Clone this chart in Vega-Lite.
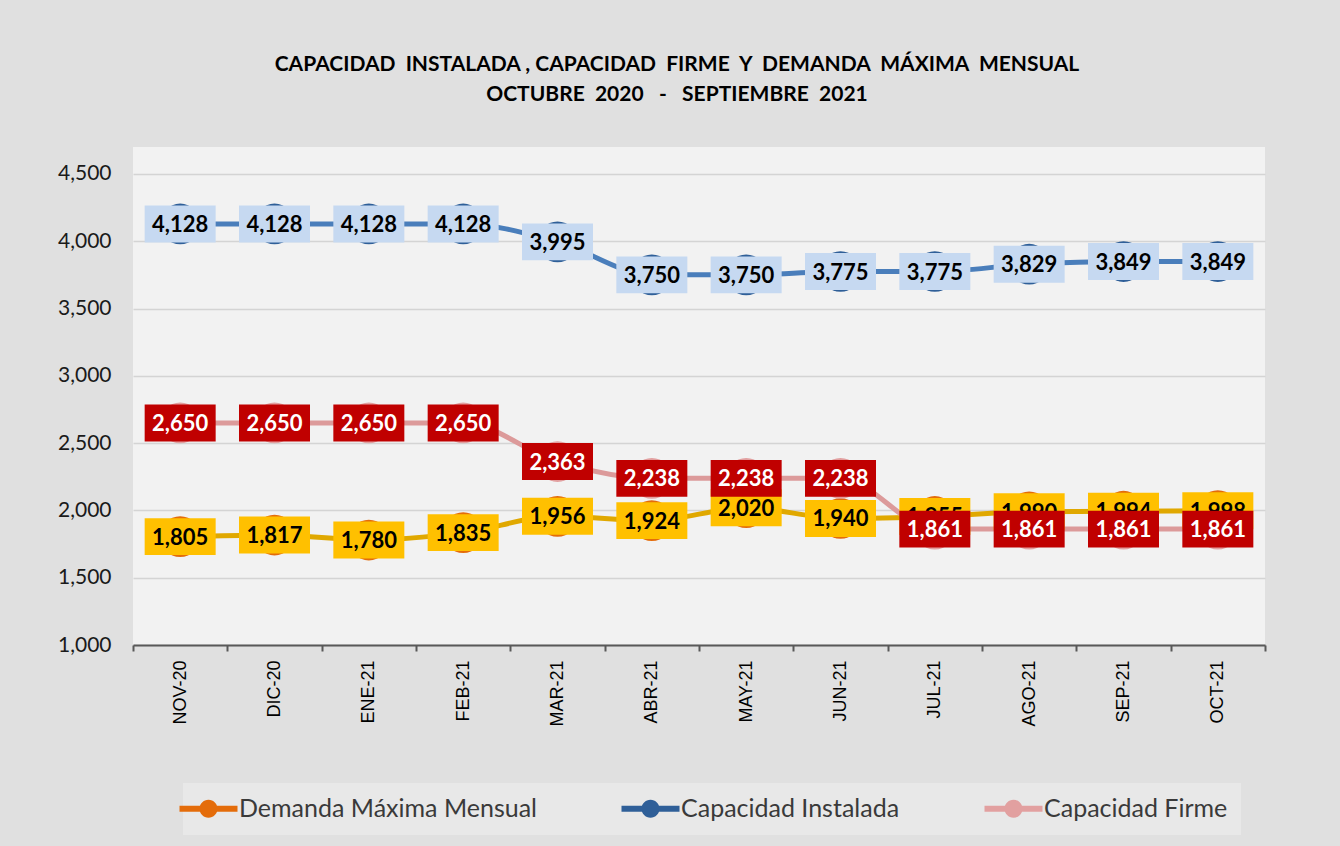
{
  "$schema": "https://vega.github.io/schema/vega-lite/v6.json",
  "autosize": "none",
  "width": 1132,
  "height": 498,
  "padding": {"left": 133, "top": 147, "right": 75, "bottom": 201},
  "background": "#e0e0e0",
  "config": {
    "view": {"fill": "#f2f2f2", "stroke": null},
    "font": "Lato"
  },
  "title": {
    "text": ["CAPACIDAD\u00a0 INSTALADA , CAPACIDAD\u00a0 FIRME\u00a0 Y\u00a0 DEMANDA\u00a0 MÁXIMA\u00a0 MENSUAL", "OCTUBRE\u00a0 2020\u00a0\u00a0 -\u00a0\u00a0 SEPTIEMBRE\u00a0 2021"],
    "fontSize": 21,
    "fontWeight": "bold",
    "font": "Lato",
    "color": "#000000",
    "anchor": "middle",
    "frame": "group",
    "dx": -22,
    "offset": 42,
    "lineHeight": 30
  },
  "data": {
    "values": [
      {"mes": "NOV-20", "serie": "Demanda Máxima Mensual", "valor": 1805},
      {"mes": "DIC-20", "serie": "Demanda Máxima Mensual", "valor": 1817},
      {"mes": "ENE-21", "serie": "Demanda Máxima Mensual", "valor": 1780},
      {"mes": "FEB-21", "serie": "Demanda Máxima Mensual", "valor": 1835},
      {"mes": "MAR-21", "serie": "Demanda Máxima Mensual", "valor": 1956},
      {"mes": "ABR-21", "serie": "Demanda Máxima Mensual", "valor": 1924},
      {"mes": "MAY-21", "serie": "Demanda Máxima Mensual", "valor": 2020},
      {"mes": "JUN-21", "serie": "Demanda Máxima Mensual", "valor": 1940},
      {"mes": "JUL-21", "serie": "Demanda Máxima Mensual", "valor": 1955},
      {"mes": "AGO-21", "serie": "Demanda Máxima Mensual", "valor": 1990},
      {"mes": "SEP-21", "serie": "Demanda Máxima Mensual", "valor": 1994},
      {"mes": "OCT-21", "serie": "Demanda Máxima Mensual", "valor": 1998},
      {"mes": "NOV-20", "serie": "Capacidad Instalada", "valor": 4128},
      {"mes": "DIC-20", "serie": "Capacidad Instalada", "valor": 4128},
      {"mes": "ENE-21", "serie": "Capacidad Instalada", "valor": 4128},
      {"mes": "FEB-21", "serie": "Capacidad Instalada", "valor": 4128},
      {"mes": "MAR-21", "serie": "Capacidad Instalada", "valor": 3995},
      {"mes": "ABR-21", "serie": "Capacidad Instalada", "valor": 3750},
      {"mes": "MAY-21", "serie": "Capacidad Instalada", "valor": 3750},
      {"mes": "JUN-21", "serie": "Capacidad Instalada", "valor": 3775},
      {"mes": "JUL-21", "serie": "Capacidad Instalada", "valor": 3775},
      {"mes": "AGO-21", "serie": "Capacidad Instalada", "valor": 3829},
      {"mes": "SEP-21", "serie": "Capacidad Instalada", "valor": 3849},
      {"mes": "OCT-21", "serie": "Capacidad Instalada", "valor": 3849},
      {"mes": "NOV-20", "serie": "Capacidad Firme", "valor": 2650},
      {"mes": "DIC-20", "serie": "Capacidad Firme", "valor": 2650},
      {"mes": "ENE-21", "serie": "Capacidad Firme", "valor": 2650},
      {"mes": "FEB-21", "serie": "Capacidad Firme", "valor": 2650},
      {"mes": "MAR-21", "serie": "Capacidad Firme", "valor": 2363},
      {"mes": "ABR-21", "serie": "Capacidad Firme", "valor": 2238},
      {"mes": "MAY-21", "serie": "Capacidad Firme", "valor": 2238},
      {"mes": "JUN-21", "serie": "Capacidad Firme", "valor": 2238},
      {"mes": "JUL-21", "serie": "Capacidad Firme", "valor": 1861},
      {"mes": "AGO-21", "serie": "Capacidad Firme", "valor": 1861},
      {"mes": "SEP-21", "serie": "Capacidad Firme", "valor": 1861},
      {"mes": "OCT-21", "serie": "Capacidad Firme", "valor": 1861}
    ]
  },
  "encoding": {
    "x": {
      "field": "mes",
      "type": "ordinal",
      "sort": null,
      "scale": {"paddingInner": 0, "paddingOuter": 0},
      "axis": {
        "title": null,
        "labelAngle": -90,
        "labelFontSize": 18,
        "labelFont": "Liberation Sans",
        "labelColor": "#000000",
        "labelPadding": 9,
        "domainColor": "#595959",
        "domainWidth": 2,
        "tickColor": "#595959",
        "tickWidth": 2,
        "tickSize": 6,
        "tickBand": "extent",
        "grid": false
      }
    },
    "y": {
      "field": "valor",
      "type": "quantitative",
      "scale": {"domain": [1000, 4700], "nice": false, "zero": false},
      "axis": {
        "title": null,
        "values": [1000, 1500, 2000, 2500, 3000, 3500, 4000, 4500],
        "format": ",d",
        "labelFontSize": 21,
        "labelFont": "Lato",
        "labelColor": "#1a1a1a",
        "labelPadding": 22,
        "domain": false,
        "ticks": false,
        "gridColor": "#d4d4d4",
        "gridWidth": 1.3
      }
    }
  },
  "layer": [
    {
      "mark": {"type": "line", "strokeWidth": 5, "interpolate": "monotone"},
      "encoding": {
        "color": {
          "field": "serie",
          "type": "nominal",
          "scale": {
            "domain": ["Demanda Máxima Mensual", "Capacidad Instalada", "Capacidad Firme"],
            "range": ["#e0a800", "#4a7ebb", "#dc9a9a"]
          },
          "legend": {
            "title": null,
            "orient": "none",
            "legendX": 50,
            "legendY": 636,
            "direction": "horizontal",
            "fillColor": "#e8e8e8",
            "padding": 13,
            "labelFontSize": 25,
            "labelFont": "Lato",
            "labelColor": "#3a3a3a",
            "labelOffset": 18,
            "columnPadding": 84,
            "symbolType": "M-2.9,-0.3H2.9V0.3H-2.9Z M-0.9,0A0.9,0.9 0 1,1 0.9,0A0.9,0.9 0 1,1 -0.9,0Z",
            "symbolSize": 400,
            "symbolStrokeWidth": 0,
            "labelLimit": 400,
            "encode": {
              "symbols": {"update": {"fill": {"scale": "color", "field": "value"}, "opacity": {"value": 1}}}
            }
          }
        }
      }
    },
    {
      "mark": {"type": "point", "filled": true, "opacity": 1, "size": 1660, "shape": "circle"},
      "encoding": {
        "fill": {
          "field": "serie",
          "type": "nominal",
          "scale": {
            "domain": ["Demanda Máxima Mensual", "Capacidad Instalada", "Capacidad Firme"],
            "range": ["#e46c0a", "#2f5f98", "#e2a0a0"]
          },
          "legend": null
        }
      }
    },
    {
      "transform": [{"filter": "datum.serie === 'Demanda Máxima Mensual'"}],
      "mark": {"type": "point", "filled": true, "opacity": 1, "size": 5041, "shape": "M-1,-0.52H1V0.52H-1Z", "color": "#ffc000"}
    },
    {
      "transform": [{"filter": "datum.serie === 'Demanda Máxima Mensual'"}],
      "mark": {"type": "text", "fontSize": 22, "fontWeight": "bold", "font": "Lato", "color": "#000000", "baseline": "middle", "dy": 1},
      "encoding": {"text": {"field": "valor", "type": "quantitative", "format": ",d"}}
    },
    {
      "transform": [{"filter": "datum.serie === 'Capacidad Firme'"}],
      "mark": {"type": "point", "filled": true, "opacity": 1, "size": 5041, "shape": "M-1,-0.52H1V0.52H-1Z", "color": "#c00000"}
    },
    {
      "transform": [{"filter": "datum.serie === 'Capacidad Firme'"}],
      "mark": {"type": "text", "fontSize": 22, "fontWeight": "bold", "font": "Lato", "color": "#ffffff", "baseline": "middle", "dy": 1},
      "encoding": {"text": {"field": "valor", "type": "quantitative", "format": ",d"}}
    },
    {
      "transform": [{"filter": "datum.serie === 'Capacidad Instalada'"}],
      "mark": {"type": "point", "filled": true, "opacity": 1, "size": 5041, "shape": "M-1,-0.52H1V0.52H-1Z", "color": "#c6d9f1"}
    },
    {
      "transform": [{"filter": "datum.serie === 'Capacidad Instalada'"}],
      "mark": {"type": "text", "fontSize": 22, "fontWeight": "bold", "font": "Lato", "color": "#000000", "baseline": "middle", "dy": 1},
      "encoding": {"text": {"field": "valor", "type": "quantitative", "format": ",d"}}
    }
  ]
}
